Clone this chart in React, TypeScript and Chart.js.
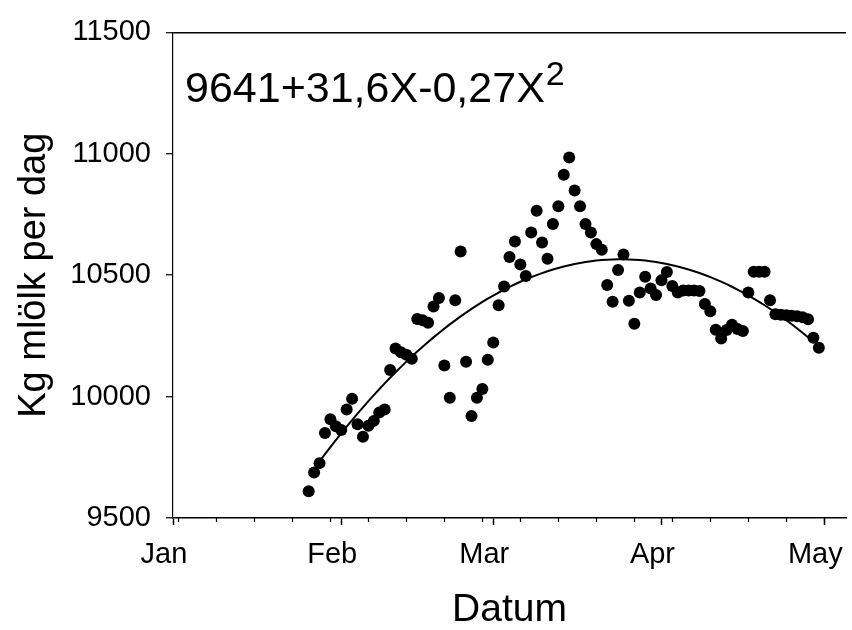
import React, { useEffect, useRef } from "react";
import { Chart, registerables } from "chart.js";

Chart.register(...registerables);

// Day of year for each observation (0 = 1 January)
const DAY = [
  25, 26, 27, 28, 29, 30, 31, 32, 33, 34, 35, 36, 37, 38, 39, 40, 41, 42, 43, 44,
  45, 46, 47, 48, 49, 50, 51, 52, 53, 54, 55, 56, 57, 58, 59, 60, 61, 62, 63, 64,
  65, 66, 67, 68, 69, 70, 71, 72, 73, 74, 75, 76, 77, 78, 79, 80, 81, 82, 83, 84,
  85, 86, 87, 88, 89, 90, 91, 92, 93, 94, 95, 96, 97, 98, 99, 100, 101, 102, 103, 104,
  105, 106, 107, 108, 109, 110, 111, 112, 113, 114, 115, 116, 117, 118, 119,
];

// Herd milk yield, kg per day
const MILK = [
  9610, 9687, 9726, 9850, 9907, 9878, 9862, 9947, 9991, 9886, 9835, 9880, 9900, 9934, 9947, 10110, 10198, 10183, 10172, 10156,
  10320, 10314, 10304, 10371, 10406, 10128, 9995, 10397, 10598, 10144, 9920, 9995, 10031, 10152, 10223, 10376, 10453, 10575, 10639, 10544,
  10497, 10676, 10765, 10635, 10568, 10711, 10784, 10914, 10985, 10849, 10784, 10711, 10676, 10628, 10605, 10460, 10391, 10521, 10585, 10395,
  10300, 10429, 10494, 10445, 10418, 10479, 10513, 10456, 10429, 10437, 10437, 10437, 10435, 10381, 10352, 10275, 10239, 10274, 10296, 10278,
  10270, 10429, 10514, 10514, 10514, 10397, 10339, 10337, 10335, 10333, 10331, 10327, 10319, 10242, 10201,
];

// Regression curve: yield = 9641 + 31,6X - 0,27X^2
const FIT_COEF = [9641, 31.6, -0.27];
const FIT_ORIGIN_DAY = 24; // X = 0 on this day
const FIT_X_RANGE = [3, 94];

const MONTH_DAYS = [0, 31, 59, 90, 120];
const MONTH_LABELS = ["Jan", "Feb", "Mar", "Apr", "May"];
const WEEK_TICKS = [1, 8, 15, 22, 29, 36, 43, 50, 57, 64, 71, 78, 85, 92, 99, 106, 113, 120];
const Y_TICKS = [9500, 10000, 10500, 11000, 11500];

const FONT = '"Liberation Sans", Arial, Helvetica, sans-serif';

const weekTicksPlugin = {
  id: "weekTicks",
  afterDraw(chart: any) {
    const x = chart.scales.x;
    const ctx = chart.ctx;
    ctx.save();
    ctx.strokeStyle = "#000";
    ctx.lineWidth = 1.2;
    for (const d of WEEK_TICKS) {
      const px = Math.round(x.getPixelForValue(d)) + 0.5;
      ctx.beginPath();
      ctx.moveTo(px, x.top);
      ctx.lineTo(px, x.top + 4);
      ctx.stroke();
    }
    ctx.restore();
  },
};

const equationPlugin = {
  id: "equation",
  afterDraw(chart: any) {
    const ctx = chart.ctx;
    const left = chart.chartArea.left + 12;
    const base = chart.chartArea.top + 70;
    ctx.save();
    ctx.fillStyle = "#000";
    ctx.textBaseline = "alphabetic";
    ctx.textAlign = "left";
    ctx.font = `43px ${FONT}`;
    const main = "9641+31,6X-0,27X";
    ctx.fillText(main, left, base);
    const w = ctx.measureText(main).width;
    ctx.font = `34px ${FONT}`;
    ctx.fillText("2", left + w + 1, base - 17);
    ctx.restore();
  },
};

export default function App() {
  const canvasRef = useRef<HTMLCanvasElement | null>(null);

  useEffect(() => {
    const canvas = canvasRef.current;
    if (!canvas) return;

    const points = DAY.map((d, i) => ({ x: d, y: MILK[i] }));
    const curve: { x: number; y: number }[] = [];
    for (let X = FIT_X_RANGE[0]; X <= FIT_X_RANGE[1]; X++) {
      curve.push({
        x: FIT_ORIGIN_DAY + X,
        y: FIT_COEF[0] + FIT_COEF[1] * X + FIT_COEF[2] * X * X,
      });
    }

    const chart = new Chart(canvas, {
      type: "scatter",
      data: {
        datasets: [
          {
            type: "line",
            data: curve,
            borderColor: "#000",
            borderWidth: 2,
            pointRadius: 0,
            fill: false,
            tension: 0,
            showLine: true,
          } as any,
          {
            type: "scatter",
            data: points,
            backgroundColor: "#000",
            borderColor: "#000",
            borderWidth: 0,
            pointRadius: 6,
          } as any,
        ],
      },
      options: {
        responsive: false,
        animation: false,
        devicePixelRatio: 1,
        layout: { padding: { top: 27, right: 0, left: 0, bottom: 0 } },
        plugins: {
          legend: { display: false },
          tooltip: { enabled: false },
        },
        scales: {
          x: {
            type: "linear",
            min: 0,
            max: 124,
            afterBuildTicks: (s: any) => {
              s.ticks = MONTH_DAYS.map((v) => ({ value: v }));
            },
            afterFit: (s: any) => {
              s.height = 112;
              s.paddingLeft = 0;
              s.paddingRight = 0;
            },
            ticks: {
              autoSkip: false,
              maxRotation: 0,
              padding: 13,
              labelOffset: -9,
              color: "#000",
              font: { family: FONT, size: 29 },
              callback: (v: any) => {
                const i = MONTH_DAYS.indexOf(Number(v));
                return i >= 0 ? MONTH_LABELS[i] : "";
              },
            },
            grid: {
              drawOnChartArea: false,
              drawTicks: true,
              tickLength: 7,
              tickColor: "#000",
              tickWidth: 1.5,
            },
            border: { display: true, color: "#000", width: 1.5 },
            title: {
              display: true,
              text: "Datum",
              color: "#000",
              font: { family: FONT, size: 39, lineHeight: 1 },
              padding: { top: 0, bottom: 0 },
            },
          },
          y: {
            type: "linear",
            min: 9500,
            max: 11500,
            afterBuildTicks: (s: any) => {
              s.ticks = Y_TICKS.map((v) => ({ value: v }));
            },
            afterFit: (s: any) => {
              s.width = 173;
            },
            ticks: {
              padding: 15,
              color: "#000",
              font: { family: FONT, size: 29 },
              callback: (v: any) => String(v),
            },
            grid: {
              drawOnChartArea: true,
              drawTicks: true,
              tickLength: 7,
              tickColor: "#000",
              tickWidth: 1.2,
              lineWidth: 1.5,
              color: (c: any) =>
                c.tick && c.tick.value === Y_TICKS[Y_TICKS.length - 1] ? "#000" : "rgba(0,0,0,0)",
            },
            border: { display: true, color: "#000", width: 1.2 },
            title: {
              display: true,
              text: "Kg mlölk per dag",
              color: "#000",
              font: { family: FONT, size: 38, lineHeight: 1 },
              padding: { top: 16, bottom: 0 },
            },
          },
        },
      } as any,
      plugins: [weekTicksPlugin, equationPlugin],
    });

    return () => chart.destroy();
  }, []);

  return (
    <div style={{ position: "fixed", left: 0, top: 0, width: 852, height: 630, background: "#fff" }}>
      <canvas ref={canvasRef} width={852} height={630} style={{ display: "block" }} />
    </div>
  );
}
